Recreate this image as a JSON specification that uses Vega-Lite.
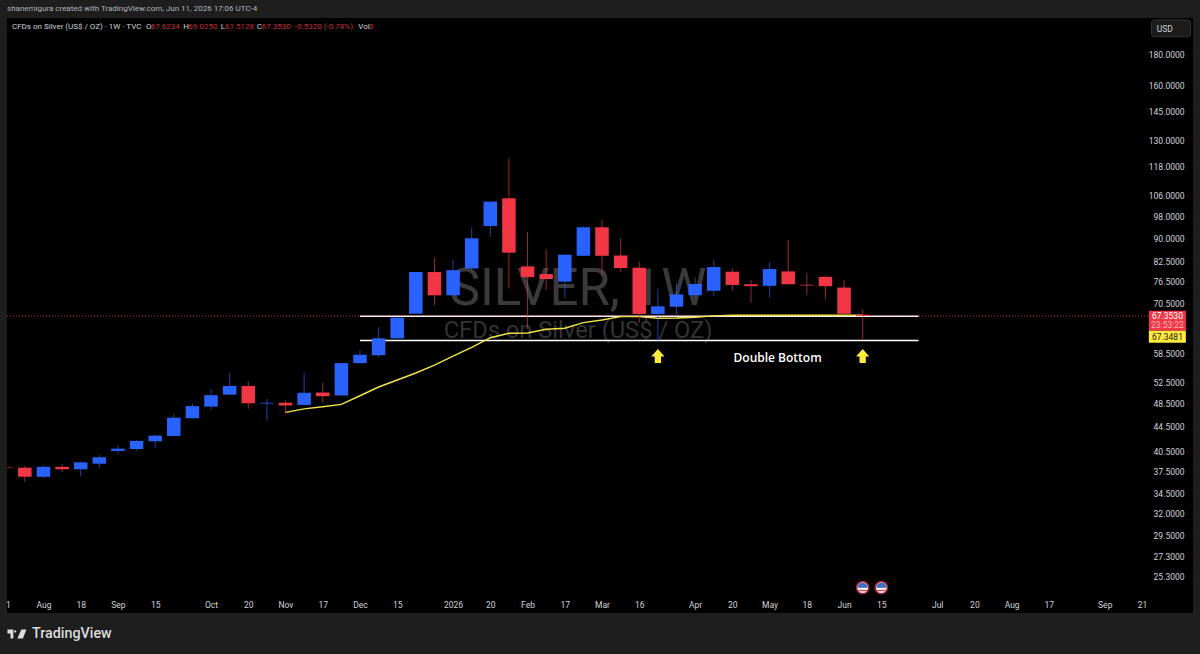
{
"$schema":"https://vega.github.io/schema/vega-lite/v6.json",
"width":1186,"height":595,
"autosize":{"type":"none"},
"padding":{"left":7,"top":18,"right":7,"bottom":41},
"background":"#1e1e1e",
"config":{"view":{"fill":"#000000","stroke":null},"font":"Roboto"},
"datasets":{
"candles":[
{"date":"2025-07-21","open":38.15,"high":38.2,"low":38.0,"close":38.08},
{"date":"2025-07-28","open":38.08,"high":38.3,"low":36.1,"close":36.8},
{"date":"2025-08-04","open":36.8,"high":38.4,"low":36.6,"close":38.2},
{"date":"2025-08-11","open":38.2,"high":38.65,"low":37.5,"close":37.85},
{"date":"2025-08-18","open":37.85,"high":38.95,"low":36.9,"close":38.85},
{"date":"2025-08-25","open":38.65,"high":39.95,"low":38.0,"close":39.6},
{"date":"2025-09-01","open":40.55,"high":41.4,"low":40.1,"close":40.9},
{"date":"2025-09-08","open":40.85,"high":42.25,"low":40.6,"close":42.1},
{"date":"2025-09-15","open":42.05,"high":43.05,"low":41.0,"close":42.95},
{"date":"2025-09-22","open":42.9,"high":46.6,"low":42.9,"close":45.95},
{"date":"2025-09-29","open":45.85,"high":48.4,"low":45.8,"close":48.0},
{"date":"2025-10-06","open":47.9,"high":51.2,"low":47.3,"close":50.0},
{"date":"2025-10-13","open":50.1,"high":54.4,"low":50.1,"close":51.75},
{"date":"2025-10-20","open":51.75,"high":52.7,"low":47.5,"close":48.5},
{"date":"2025-10-27","open":48.45,"high":49.35,"low":45.4,"close":48.6},
{"date":"2025-11-03","open":48.6,"high":49.05,"low":46.7,"close":48.1},
{"date":"2025-11-10","open":48.2,"high":54.4,"low":48.2,"close":50.45},
{"date":"2025-11-17","open":50.5,"high":52.4,"low":48.6,"close":49.8},
{"date":"2025-11-24","open":49.95,"high":56.4,"low":49.8,"close":56.4},
{"date":"2025-12-01","open":56.4,"high":59.25,"low":56.4,"close":58.2},
{"date":"2025-12-08","open":58.1,"high":64.5,"low":57.6,"close":61.9},
{"date":"2025-12-15","open":61.9,"high":66.9,"low":61.9,"close":66.9},
{"date":"2025-12-22","open":67.9,"high":79.4,"low":67.9,"close":79.4},
{"date":"2025-12-29","open":79.4,"high":83.9,"low":70.1,"close":72.75},
{"date":"2026-01-05","open":72.75,"high":83.1,"low":72.75,"close":79.95},
{"date":"2026-01-12","open":80.5,"high":93.95,"low":80.2,"close":90.15},
{"date":"2026-01-19","open":94.4,"high":103.45,"low":90.6,"close":103.45},
{"date":"2026-01-26","open":104.75,"high":121.9,"low":74.6,"close":85.4},
{"date":"2026-02-02","open":81.1,"high":92.4,"low":64.1,"close":77.9},
{"date":"2026-02-09","open":78.8,"high":86.5,"low":74.2,"close":77.35},
{"date":"2026-02-16","open":76.6,"high":84.75,"low":72.1,"close":84.75},
{"date":"2026-02-23","open":84.4,"high":94.4,"low":84.4,"close":93.95},
{"date":"2026-03-02","open":93.95,"high":96.55,"low":78.0,"close":84.4},
{"date":"2026-03-09","open":84.5,"high":90.15,"low":79.5,"close":80.6},
{"date":"2026-03-16","open":80.7,"high":82.55,"low":65.6,"close":67.85},
{"date":"2026-03-23","open":67.85,"high":74.7,"low":61.1,"close":69.8},
{"date":"2026-03-30","open":69.7,"high":76.1,"low":67.55,"close":73.0},
{"date":"2026-04-06","open":72.8,"high":77.8,"low":72.3,"close":75.9},
{"date":"2026-04-13","open":74.0,"high":83.1,"low":72.6,"close":80.9},
{"date":"2026-04-20","open":79.5,"high":80.7,"low":74.0,"close":75.65},
{"date":"2026-04-27","open":75.85,"high":77.07,"low":70.75,"close":75.3},
{"date":"2026-05-04","open":75.4,"high":82.4,"low":72.2,"close":80.3},
{"date":"2026-05-11","open":79.6,"high":89.56,"low":75.85,"close":75.85},
{"date":"2026-05-18","open":75.7,"high":79.0,"low":72.9,"close":75.5},
{"date":"2026-05-25","open":78.0,"high":78.3,"low":71.7,"close":75.3},
{"date":"2026-06-01","open":74.9,"high":77.07,"low":67.885,"close":67.885},
{"date":"2026-06-08","open":67.6234,"high":69.025,"low":61.5128,"close":67.353}
],
"ma":[
{"date":"2025-11-03","price":46.88},{"date":"2025-11-10","price":47.5},{"date":"2025-11-17","price":47.88},{"date":"2025-11-24","price":48.3},
{"date":"2025-12-01","price":49.89},{"date":"2025-12-08","price":51.56},{"date":"2025-12-15","price":52.93},{"date":"2025-12-22","price":54.34},
{"date":"2025-12-29","price":55.99},{"date":"2026-01-05","price":57.92},{"date":"2026-01-12","price":59.85},{"date":"2026-01-19","price":62.04},
{"date":"2026-01-26","price":63.08},{"date":"2026-02-02","price":63.15},{"date":"2026-02-09","price":64.05},{"date":"2026-02-16","price":64.3},
{"date":"2026-02-23","price":65.65},{"date":"2026-03-02","price":66.31},{"date":"2026-03-09","price":67.15},{"date":"2026-03-16","price":67.15},
{"date":"2026-03-23","price":66.75},{"date":"2026-03-30","price":66.8},{"date":"2026-04-06","price":67.0},{"date":"2026-04-13","price":67.35},
{"date":"2026-04-20","price":67.5},{"date":"2026-04-27","price":67.5},{"date":"2026-05-04","price":67.5},{"date":"2026-05-11","price":67.5},
{"date":"2026-05-18","price":67.5},{"date":"2026-05-25","price":67.5},{"date":"2026-06-01","price":67.5},{"date":"2026-06-08","price":67.5}
]
},
"encoding":{
"x":{"field":"date","type":"temporal","title":null,
 "scale":{"type":"utc","nice":false,"padding":0,"domain":["2025-07-21T07:00:00Z","2026-10-10T04:30:00Z"]},
 "axis":{"title":null,"grid":false,"domain":false,"ticks":false,"tickSize":0,"offset":-13,"labelPadding":0,"labelFontSize":8.5,"labelColor":"#d1d4dc","labelFont":"Roboto","labelAngle":0,"labelOverlap":false,"labelFlush":false,"labelBaseline":"top",
 "values":["2025-07-21T16:00:00Z","2025-08-04","2025-08-18","2025-09-01","2025-09-15","2025-10-06","2025-10-20","2025-11-03","2025-11-17","2025-12-01","2025-12-15","2026-01-05","2026-01-19","2026-02-02","2026-02-16","2026-03-02","2026-03-16","2026-04-06","2026-04-20","2026-05-04","2026-05-18","2026-06-01","2026-06-15","2026-07-06","2026-07-20","2026-08-03","2026-08-17","2026-09-07","2026-09-21"],
 "labelExpr":"utcFormat(datum.value,'%Y-%m-%d')=='2025-07-21'?'1':utcFormat(datum.value,'%Y-%m-%d')=='2026-01-19'?'20':utcFormat(datum.value,'%Y-%m-%d')=='2026-02-16'?'17':utcFormat(datum.value,'%Y-%m-%d')=='2026-01-05'?'2026':utcdate(datum.value)<=7?utcFormat(datum.value,'%b'):utcFormat(datum.value,'%-d')"}},
"y":{"field":"price","type":"quantitative","title":null,
 "scale":{"type":"log","domain":[22.06,206.2],"nice":false},
 "axis":{"title":null,"orient":"right","grid":false,"domain":false,"ticks":false,"tickSize":0,"offset":-9,"labelPadding":0,"labelAlign":"right","labelFontSize":8.5,"labelColor":"#d1d4dc","labelFont":"Roboto","labelOverlap":false,"format":".4f",
 "values":[25.3,27.3,29.5,32,34.5,37.5,40.5,44.5,48.5,52.5,58.5,70.5,76.5,82.5,90,98,106,118,130,145,160,180]}}
},
"layer":[
{"data":{"values":[{"date":"2026-02-21","price":74.2,"label":"SILVER, 1W"}]},"mark":{"type":"text","font":"Roboto","fontSize":51,"color":"#3a3a3a","align":"center","baseline":"middle"},"encoding":{"text":{"field":"label"}}},
{"data":{"values":[{"date":"2026-02-21","price":63.6,"label":"CFDs on Silver (US$ / OZ)"}]},"mark":{"type":"text","font":"Roboto","fontSize":23.7,"color":"#333333","align":"center","baseline":"middle"},"encoding":{"text":{"field":"label"}}},
{"data":{"values":[{"date":"2025-12-01","end":"2026-06-29","price":67.25},{"date":"2025-12-01","end":"2026-06-29","price":61.4}]},"mark":{"type":"rule","color":"#ffffff","strokeWidth":1.5},"encoding":{"x2":{"field":"end"}}},
{"data":{"values":[{"date":"2025-07-21T07:00:00Z","end":"2026-09-23T14:00:00Z","price":67.353}]},"mark":{"type":"rule","color":"#f23645","strokeWidth":1,"strokeDash":[1,2],"opacity":0.8},"encoding":{"x2":{"field":"end"}}},
{"data":{"name":"ma"},"mark":{"type":"line","color":"#f2e24a","strokeWidth":1.4,"interpolate":"linear"},"encoding":{}},
{"data":{"name":"candles"},"mark":{"type":"rule","strokeWidth":1,"opacity":0.65,"clip":true},
 "encoding":{"y":{"field":"low","type":"quantitative","title":null},"y2":{"field":"high"},
  "color":{"condition":{"test":"datum.close>datum.open","value":"#2962ff"},"value":"#f23645"}}},
{"data":{"name":"candles"},"mark":{"type":"bar","size":13.5,"clip":true},
 "encoding":{"y":{"field":"open","type":"quantitative","title":null},"y2":{"field":"close"},
  "color":{"condition":{"test":"datum.close>datum.open","value":"#2962ff"},"value":"#f23645"}}},
{"data":{"values":[{"date":"2026-03-23","price":57.9},{"date":"2026-06-08","price":57.9}]},"mark":{"type":"point","filled":true,"opacity":1,"color":"#ffeb3b","size":196,"shape":"M0,-1 L0.95,0.05 L0.45,0.05 L0.45,1 L-0.45,1 L-0.45,0.05 L-0.95,0.05 Z"},"encoding":{}},
{"data":{"values":[{"date":"2026-05-07","price":57.4,"label":"Double Bottom"}]},"mark":{"type":"text","font":"Open Sans","fontSize":12,"fontWeight":600,"color":"#ffffff","align":"center","baseline":"middle"},"encoding":{"text":{"field":"label"}}},
{"data":{"values":[{"date":"2026-06-08","price":24.26},{"date":"2026-06-15","price":24.26}]},"mark":{"type":"point","filled":true,"opacity":1,"shape":"circle","size":150,"color":"#e8eaf0","stroke":"#a5262f","strokeWidth":1.5},"encoding":{}},
{"data":{"values":[{"date":"2026-06-08","price":24.26},{"date":"2026-06-15","price":24.26}]},"mark":{"type":"point","filled":true,"opacity":1,"size":100,"color":"#3d6cc4","shape":"M-1,0 A1,1 0 0 1 1,0 Z"},"encoding":{}},
{"data":{"values":[{"date":"2026-06-08","price":24.0},{"date":"2026-06-15","price":24.0}]},"mark":{"type":"point","filled":true,"opacity":1,"size":100,"color":"#d9434e","shape":"M-0.9,-0.12 L0.9,-0.12 L0.9,0.12 L-0.9,0.12 Z"},"encoding":{}},
{"data":{"values":[{"date":"2026-09-23T14:00:00Z","end":"2026-10-07T12:00:00Z","price":68.67,"low":63.7}]},"mark":{"type":"bar","color":"#f23645"},"encoding":{"y2":{"field":"low"},"x2":{"field":"end"}}},
{"data":{"values":[{"date":"2026-09-23T14:00:00Z","end":"2026-10-07T12:00:00Z","price":63.7,"low":60.89}]},"mark":{"type":"bar","color":"#ffeb3b"},"encoding":{"y2":{"field":"low"},"x2":{"field":"end"}}},
{"data":{"values":[{"date":"2026-09-30T14:00:00Z","price":67.27,"label":"67.3530"}]},"mark":{"type":"text","fontSize":8.5,"color":"#ffffff","align":"center","baseline":"middle"},"encoding":{"text":{"field":"label"}}},
{"data":{"values":[{"date":"2026-09-30T14:00:00Z","price":65.0,"label":"23:53:22"}]},"mark":{"type":"text","fontSize":8.5,"color":"#f7b7bd","align":"center","baseline":"middle"},"encoding":{"text":{"field":"label"}}},
{"data":{"values":[{"date":"2026-09-30T14:00:00Z","price":62.1,"label":"67.3481"}]},"mark":{"type":"text","fontSize":8.5,"color":"#1a1a1a","align":"center","baseline":"middle"},"encoding":{"text":{"field":"label"}}},
{"data":{"values":[{"date":"2026-09-24T14:00:00Z","end":"2026-10-09T07:00:00Z","price":204.7,"low":192.2}]},"mark":{"type":"rect","fill":"#1c1c1c","stroke":"#333333","strokeWidth":1,"cornerRadius":3},"encoding":{"y2":{"field":"low"},"x2":{"field":"end"}}},
{"data":{"values":[{"date":"2026-09-26T14:00:00Z","price":197.8,"label":"USD"}]},"mark":{"type":"text","fontSize":8.5,"color":"#d1d4dc","align":"left","baseline":"middle"},"encoding":{"text":{"field":"label"}}},
{"data":{"values":[{"date":"2025-07-21T07:00:00Z","price":212.9,"label":"shanemigura created with TradingView.com, Jun 11, 2026 17:06 UTC-4"}]},"mark":{"type":"text","fontSize":8,"color":"#b2b5be","align":"left","baseline":"middle"},"encoding":{"text":{"field":"label"}}},
{"data":{"values":[{"date":"2025-07-23T04:00:00Z","price":199.1,"label":"CFDs on Silver (US$ / OZ) · 1W · TVC"},{"date":"2025-09-11T13:00:00Z","price":199.1,"label":"O"},{"date":"2025-09-25T14:00:00Z","price":199.1,"label":"H"},{"date":"2025-10-09T15:00:00Z","price":199.1,"label":"L"},{"date":"2025-10-23T04:00:00Z","price":199.1,"label":"C"},{"date":"2025-11-30T09:00:00Z","price":199.1,"label":"Vol"}]},"mark":{"type":"text","fontSize":8,"color":"#d1d4dc","align":"left","baseline":"middle"},"encoding":{"text":{"field":"label"}}},
{"data":{"values":[{"date":"2025-09-13T07:30:00Z","price":199.1,"label":"67.6234"},{"date":"2025-09-27T11:00:00Z","price":199.1,"label":"69.0250"},{"date":"2025-10-11T06:00:00Z","price":199.1,"label":"61.5128"},{"date":"2025-10-25T01:00:00Z","price":199.1,"label":"67.3530"},{"date":"2025-11-06T13:30:00Z","price":199.1,"label":"-0.5320 (-0.78%)"},{"date":"2025-12-04T09:00:00Z","price":199.1,"label":"0"}]},"mark":{"type":"text","fontSize":8,"color":"#c22f3c","align":"left","baseline":"middle"},"encoding":{"text":{"field":"label"}}},
{"data":{"values":[{"date":"2025-07-30T17:00:00Z","price":20.38,"label":"TradingView"}]},"mark":{"type":"text","fontSize":14.3,"fontWeight":500,"color":"#dcdcdc","align":"left","baseline":"middle"},"encoding":{"text":{"field":"label"}}},
{"data":{"values":[{"date":"2025-07-25T01:00:00Z","price":20.38}]},"mark":{"type":"point","filled":true,"opacity":1,"size":361,"color":"#dcdcdc","shape":"M-1,-0.47 L-0.38,-0.47 L-0.38,0.47 L-0.68,0.47 L-0.68,-0.05 L-1,-0.05 Z M-0.32,-0.3 L-0.2,-0.42 L-0.06,-0.3 L-0.2,-0.12 Z M0.45,-0.47 L1,-0.47 L0.62,0.47 L0.05,0.47 Z"},"encoding":{}}
]
}
